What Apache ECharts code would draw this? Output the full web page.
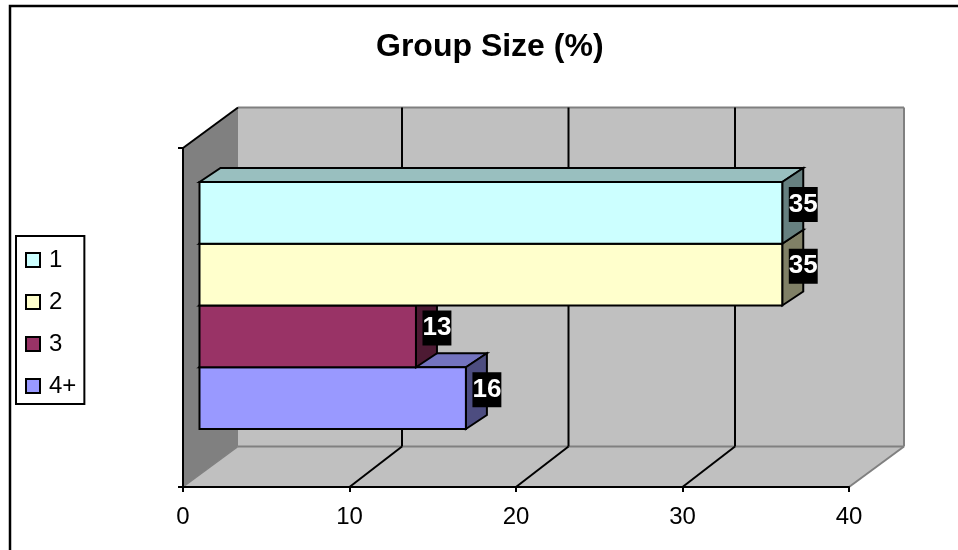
<!DOCTYPE html>
<html>
<head>
<meta charset="utf-8">
<style>html,body{margin:0;padding:0;background:#fff}#c{width:958px;height:550px}</style>
<script src="https://cdn.jsdelivr.net/npm/echarts@6/dist/echarts.min.js"></script>
</head>
<body>
<div id="c"></div>
<script>
const titleText = 'Group Size (%)';
const category = [''];
const seriesNames = ['1', '2', '3', '4+'];
const seriesValues = [35, 35, 13, 16];
const frontColors = ['#CCFFFF', '#FFFFCC', '#993366', '#9999FF'];
const topColors = ['#99BFBF', '#BFBF99', '#732640', '#7373BF'];
const sideColors = ['#668080', '#808066', '#4D1A33', '#4D4D80'];
const xTicks = [0, 10, 20, 30, 40];

// 3D projection, as fractions of the plot box
const DEPTH_X = 55 / 666, DEPTH_Y = 40.5 / 339;     // full floor depth
const GRID_X = 52.5 / 666;                          // depth of the inner gridlines
const BAR_X = 16.5 / 666, BAR_Y = 12 / 339;         // front plane of the bars
const BAR_DX = 21 / 666, BAR_DY = 14 / 339;         // depth of one bar
const BAR_BAND = 247 / 339;                         // share of the band used by all bars
const FONT = '"Liberation Sans", Arial, sans-serif';

function poly(points, fill, stroke, lw) {
  return { type: 'polygon', shape: { points }, style: { fill, stroke: stroke || null, lineWidth: lw || 0, lineJoin: 'miter' } };
}
function seg(a, b, stroke, lw) {
  return { type: 'line', shape: { x1: a[0], y1: a[1], x2: b[0], y2: b[1] }, style: { stroke, lineWidth: lw } };
}

function renderWalls(params, api) {
  const g = params.coordSys;
  const dx = g.width * DEPTH_X, dy = g.height * DEPTH_Y, gx = g.width * GRID_X;
  const l = g.x, r = g.x + g.width, t = g.y, b = g.y + g.height;
  const children = [
    poly([[l + dx, t - dy], [r + dx, t - dy], [r + dx, b - dy], [l + dx, b - dy]], '#C0C0C0'),
    poly([[l, t], [l + dx, t - dy], [l + dx, b - dy], [l, b]], '#808080'),
    poly([[l, b], [l + dx, b - dy], [r + dx, b - dy], [r, b]], '#C0C0C0'),
    seg([l + dx, t - dy], [r + dx, t - dy], '#808080', 2),
    seg([r + dx, t - dy], [r + dx, b - dy], '#808080', 2),
    seg([l + dx, b - dy], [r + dx, b - dy], '#808080', 2),
    seg([l, b], [l + dx, b - dy], '#808080', 1.5),
    seg([r, b], [r + dx, b - dy], '#808080', 2),
    seg([l, t], [l + dx, t - dy], '#000', 2)
  ];
  xTicks.slice(1, -1).forEach(v => {
    const x = api.coord([v, 0])[0];
    children.push(seg([x, b], [x + gx, b - dy], '#000', 2));
    children.push(seg([x + gx, b - dy], [x + gx, t - dy], '#000', 2));
  });
  return { type: 'group', children };
}

function renderBar(index) {
  return function (params, api) {
    const g = params.coordSys;
    const ox = g.width * BAR_X, oy = g.height * BAR_Y;
    const ddx = g.width * BAR_DX, ddy = g.height * BAR_DY;
    const bandH = api.size([0, 1])[1];
    const cy = api.coord([0, 0])[1];
    const barH = bandH * BAR_BAND / seriesNames.length;
    const top = cy - barH * seriesNames.length / 2 + barH * index - oy;
    const bottom = top + barH;
    const x0 = api.coord([0, 0])[0] + ox;
    const x1 = api.coord([api.value(0), 0])[0] + ox;
    return {
      type: 'group',
      children: [
        poly([[x0, top], [x0 + ddx, top - ddy], [x1 + ddx, top - ddy], [x1, top]], topColors[index], '#000', 2),
        poly([[x1, top], [x1 + ddx, top - ddy], [x1 + ddx, bottom - ddy], [x1, bottom]], sideColors[index], '#000', 2),
        poly([[x0, top], [x1, top], [x1, bottom], [x0, bottom]], frontColors[index], '#000', 2),
        {
          type: 'text',
          z2: 50,
          style: {
            x: x1 + ddx,
            y: (top + bottom) / 2 - ddy * 0.6,
            text: String(api.value(0)),
            fill: '#fff',
            font: 'bold 26px ' + FONT,
            align: 'center',
            verticalAlign: 'middle',
            backgroundColor: '#000',
            padding: [5, 0, 4, 0]
          }
        }
      ]
    };
  };
}

const chart = echarts.init(document.getElementById('c'), null, { renderer: 'canvas' });
chart.setOption({
  animation: false,
  backgroundColor: '#fff',
  title: {
    text: titleText,
    left: 376, top: 31,
    padding: 0,
    textStyle: { fontFamily: FONT, fontWeight: 'bold', fontSize: 32, color: '#000' }
  },
  graphic: [{
    type: 'polyline', silent: true,
    shape: { points: [[10, 550], [10, 6], [958, 6]] },
    style: { stroke: '#000', lineWidth: 2.5, fill: null }
  }],
  legend: {
    orient: 'vertical',
    left: 16, top: 236,
    padding: [12, 8, 6, 9],
    borderColor: '#000', borderWidth: 2,
    backgroundColor: '#fff',
    data: seriesNames,
    icon: 'rect',
    itemWidth: 14, itemHeight: 14, itemGap: 18,
    selectedMode: false,
    textStyle: { fontFamily: FONT, fontSize: 24, color: '#000', padding: [2, 0, 0, 4] }
  },
  grid: { left: 183, top: 148, width: 666, height: 339, containLabel: false },
  xAxis: {
    type: 'value', min: 0, max: 40, interval: 10, z: 5,
    axisLine: { show: true, lineStyle: { color: '#000', width: 2 } },
    axisTick: { show: true, length: 5, lineStyle: { color: '#000', width: 2 } },
    axisLabel: { fontFamily: FONT, fontSize: 24, color: '#000', margin: 18 },
    splitLine: { show: false }
  },
  yAxis: {
    type: 'category', data: category, z: 5,
    axisLine: { show: true, lineStyle: { color: '#000', width: 2 } },
    axisTick: { show: true, length: 5, lineStyle: { color: '#000', width: 2 } },
    axisLabel: { show: false },
    splitLine: { show: false }
  },
  series: [{
    type: 'custom', name: 'walls', silent: true, z: 1,
    coordinateSystem: 'cartesian2d',
    renderItem: renderWalls,
    data: [[0, 0]]
  }].concat(seriesNames.map((name, i) => ({
    type: 'custom', name, z: 10 - i, silent: true,
    coordinateSystem: 'cartesian2d',
    itemStyle: { color: frontColors[i], borderColor: '#000', borderWidth: 2 },
    encode: { x: 0, y: 1 },
    renderItem: renderBar(i),
    data: [[seriesValues[i], 0]]
  })))
});
</script>
</body>
</html>
